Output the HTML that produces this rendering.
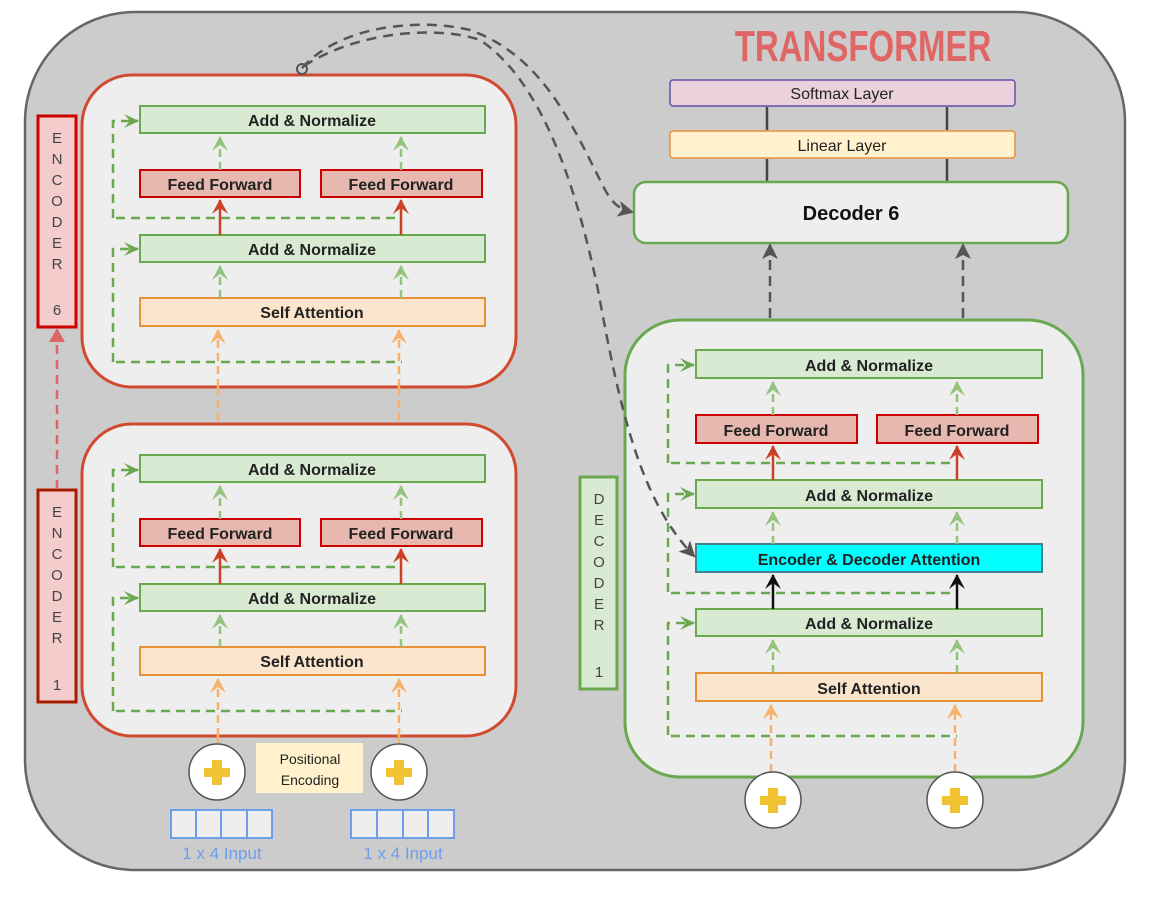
<!DOCTYPE html>
<html><head><meta charset="utf-8"><style>
html,body{margin:0;padding:0;background:#fff;}
svg{display:block;font-family:"Liberation Sans",sans-serif;}
.an{fill:#d9ead3;stroke:#6aa84f;stroke-width:2}
.ff{fill:#e6b8af;stroke:#cc0000;stroke-width:2}
.sa{fill:#fce5cd;stroke:#e69138;stroke-width:2}
.t{font-size:16px;font-weight:bold;fill:#222;text-anchor:middle;}
.gd{fill:none;stroke:#6aa84f;stroke-width:2.5;stroke-dasharray:9,6}
.lg{stroke:#93c47d;stroke-width:2.5;stroke-dasharray:8,5}
.or{stroke:#f6b26b;stroke-width:2.5;stroke-dasharray:8,5}
.rd{stroke:#cc4125;stroke-width:2.5}
.lt{font-size:15px;fill:#444;text-anchor:middle;}
</style></head><body>
<svg width="1156" height="904" viewBox="0 0 1156 904">
<defs>
<marker id="ag" markerWidth="16" markerHeight="16" refX="14" refY="8" orient="auto" markerUnits="userSpaceOnUse"><path d="M0,1 L15,8 L0,15 L6,8z" fill="#6aa84f"/></marker>
<marker id="alg" markerWidth="16" markerHeight="18" refX="14" refY="9" orient="auto" markerUnits="userSpaceOnUse"><path d="M0,1 L15,9 L0,17 L6,9z" fill="#93c47d"/></marker>
<marker id="ao" markerWidth="16" markerHeight="18" refX="14" refY="9" orient="auto" markerUnits="userSpaceOnUse"><path d="M0,1 L15,9 L0,17 L6,9z" fill="#f6b26b"/></marker>
<marker id="ar" markerWidth="16" markerHeight="18" refX="14" refY="9" orient="auto" markerUnits="userSpaceOnUse"><path d="M0,1 L15,9 L0,17 L6,9z" fill="#cc4125"/></marker>
<marker id="ak" markerWidth="16" markerHeight="18" refX="14" refY="9" orient="auto" markerUnits="userSpaceOnUse"><path d="M0,1 L15,9 L0,17 L6,9z" fill="#111"/></marker>
<marker id="agr" markerWidth="16" markerHeight="18" refX="14" refY="9" orient="auto" markerUnits="userSpaceOnUse"><path d="M0,1 L16,9 L0,17 L4,9z" fill="#555"/></marker>
<marker id="ap" markerWidth="14" markerHeight="16" refX="12" refY="8" orient="auto" markerUnits="userSpaceOnUse"><path d="M0,0 L14,8 L0,16z" fill="#e06666"/></marker>
</defs>

<rect x="25" y="12" width="1100" height="858" rx="110" fill="#cccccc" stroke="#666" stroke-width="2.5"/>
<text x="863" y="61" font-size="44" font-weight="bold" fill="#e06666" text-anchor="middle" transform="translate(863 0) scale(0.75 1) translate(-863 0)">TRANSFORMER</text>

<!-- Encoder 6 -->
<rect x="82" y="75" width="434" height="312" rx="50" fill="#eeeeee" stroke="#d04a30" stroke-width="3"/>
<g id="enc">
<path class="gd" d="M113,218 V121 H138" marker-end="url(#ag)"/>
<path class="gd" d="M116,218 H402"/>
<path class="gd" d="M113,362 V249 H138" marker-end="url(#ag)"/>
<path class="gd" d="M116,362 H402"/>
<rect class="an" x="140" y="106" width="345" height="27"/>
<text class="t" x="312" y="126">Add &amp; Normalize</text>
<rect class="ff" x="140" y="170" width="160" height="27"/>
<text class="t" x="220" y="190">Feed Forward</text>
<rect class="ff" x="321" y="170" width="161" height="27"/>
<text class="t" x="401" y="190">Feed Forward</text>
<rect class="an" x="140" y="235" width="345" height="27"/>
<text class="t" x="312" y="255">Add &amp; Normalize</text>
<rect class="sa" x="140" y="298" width="345" height="28"/>
<text class="t" x="312" y="318">Self Attention</text>
<line class="lg" x1="220" y1="170" x2="220" y2="137" marker-end="url(#alg)"/>
<line class="lg" x1="401" y1="170" x2="401" y2="137" marker-end="url(#alg)"/>
<line class="rd" x1="220" y1="235" x2="220" y2="200" marker-end="url(#ar)"/>
<line class="rd" x1="401" y1="235" x2="401" y2="200" marker-end="url(#ar)"/>
<line class="lg" x1="220" y1="298" x2="220" y2="266" marker-end="url(#alg)"/>
<line class="lg" x1="401" y1="298" x2="401" y2="266" marker-end="url(#alg)"/>
<line class="or" x1="218" y1="387" x2="218" y2="330" marker-end="url(#ao)"/>
<line class="or" x1="399" y1="387" x2="399" y2="330" marker-end="url(#ao)"/>
</g>
<line class="or" x1="218" y1="387" x2="218" y2="424"/>
<line class="or" x1="399" y1="387" x2="399" y2="424"/>

<!-- Encoder 1 -->
<rect x="82" y="424" width="434" height="312" rx="50" fill="#eeeeee" stroke="#d04a30" stroke-width="3"/>
<use href="#enc" transform="translate(0 349)"/>
<line class="or" x1="218" y1="736" x2="218" y2="745"/>
<line class="or" x1="399" y1="736" x2="399" y2="745"/>

<!-- labels -->
<rect x="38" y="116" width="38" height="211" fill="#f4cccc" stroke="#cc0000" stroke-width="3"/>
<g class="lt"><text x="57" y="143">E</text><text x="57" y="164">N</text><text x="57" y="185">C</text><text x="57" y="206">O</text><text x="57" y="227">D</text><text x="57" y="248">E</text><text x="57" y="269">R</text><text x="57" y="315">6</text></g>
<rect x="38" y="490" width="38" height="212" fill="#f4cccc" stroke="#a61c00" stroke-width="3"/>
<g class="lt"><text x="57" y="517">E</text><text x="57" y="538">N</text><text x="57" y="559">C</text><text x="57" y="580">O</text><text x="57" y="601">D</text><text x="57" y="622">E</text><text x="57" y="643">R</text><text x="57" y="690">1</text></g>
<line x1="57" y1="489" x2="57" y2="330" stroke="#e06666" stroke-width="2.5" stroke-dasharray="9,6" marker-end="url(#ap)"/>

<rect x="256" y="743" width="107" height="50" fill="#fff2cc"/>
<text x="310" y="764" font-size="14" fill="#222" text-anchor="middle">Positional</text>
<text x="310" y="785" font-size="14" fill="#222" text-anchor="middle">Encoding</text>
<g fill="#eeeeee" stroke="#6d9eeb" stroke-width="2">
<rect x="171" y="810" width="25" height="28"/><rect x="196" y="810" width="25" height="28"/><rect x="221" y="810" width="26" height="28"/><rect x="247" y="810" width="25" height="28"/>
<rect x="351" y="810" width="26" height="28"/><rect x="377" y="810" width="26" height="28"/><rect x="403" y="810" width="25" height="28"/><rect x="428" y="810" width="26" height="28"/>
</g>
<text x="222" y="859" font-size="17" fill="#6d9eeb" text-anchor="middle">1 x 4 Input</text>
<text x="403" y="859" font-size="17" fill="#6d9eeb" text-anchor="middle">1 x 4 Input</text>

<!-- top layers -->
<rect x="670" y="80" width="345" height="26" rx="3" fill="#ead1dc" stroke="#674ea7" stroke-width="1.5"/>
<text x="842" y="99" font-size="16" fill="#222" text-anchor="middle">Softmax Layer</text>
<rect x="670" y="131" width="345" height="27" rx="3" fill="#fff2cc" stroke="#e69138" stroke-width="1.5"/>
<text x="842" y="151" font-size="16" fill="#222" text-anchor="middle">Linear Layer</text>
<g stroke="#444" stroke-width="2.5">
<line x1="767" y1="107" x2="767" y2="130"/><line x1="947" y1="107" x2="947" y2="130"/>
<line x1="767" y1="159" x2="767" y2="182"/><line x1="947" y1="159" x2="947" y2="182"/>
</g>
<rect x="634" y="182" width="434" height="61" rx="12" fill="#eeeeee" stroke="#6aa84f" stroke-width="2.5"/>
<text x="851" y="220" font-size="20" font-weight="bold" fill="#111" text-anchor="middle">Decoder 6</text>
<line x1="770" y1="350" x2="770" y2="245" stroke="#555" stroke-width="2.5" stroke-dasharray="10,6" marker-end="url(#agr)"/>
<line x1="963" y1="350" x2="963" y2="245" stroke="#555" stroke-width="2.5" stroke-dasharray="10,6" marker-end="url(#agr)"/>

<!-- Decoder 1 -->
<rect x="625" y="320" width="458" height="457" rx="55" fill="#eeeeee" stroke="#6aa84f" stroke-width="3"/>
<path class="gd" d="M668,463 V365 H694" marker-end="url(#ag)"/>
<path class="gd" d="M671,463 H957"/>
<path class="gd" d="M668,592 V494 H694" marker-end="url(#ag)"/>
<path class="gd" d="M671,593 H957"/>
<path class="gd" d="M668,735 V623 H694" marker-end="url(#ag)"/>
<path class="gd" d="M671,736 H957"/>
<rect class="an" x="696" y="350" width="346" height="28"/>
<text class="t" x="869" y="371">Add &amp; Normalize</text>
<rect class="ff" x="696" y="415" width="161" height="28"/>
<text class="t" x="776" y="436">Feed Forward</text>
<rect class="ff" x="877" y="415" width="161" height="28"/>
<text class="t" x="957" y="436">Feed Forward</text>
<rect class="an" x="696" y="480" width="346" height="28"/>
<text class="t" x="869" y="501">Add &amp; Normalize</text>
<rect x="696" y="544" width="346" height="28" fill="#00ffff" stroke="#45818e" stroke-width="2"/>
<text class="t" x="869" y="565">Encoder &amp; Decoder Attention</text>
<rect class="an" x="696" y="609" width="346" height="27"/>
<text class="t" x="869" y="629">Add &amp; Normalize</text>
<rect class="sa" x="696" y="673" width="346" height="28"/>
<text class="t" x="869" y="694">Self Attention</text>
<line class="lg" x1="773" y1="415" x2="773" y2="382" marker-end="url(#alg)"/>
<line class="lg" x1="957" y1="415" x2="957" y2="382" marker-end="url(#alg)"/>
<line class="rd" x1="773" y1="480" x2="773" y2="446" marker-end="url(#ar)"/>
<line class="rd" x1="957" y1="480" x2="957" y2="446" marker-end="url(#ar)"/>
<line class="lg" x1="773" y1="544" x2="773" y2="512" marker-end="url(#alg)"/>
<line class="lg" x1="957" y1="544" x2="957" y2="512" marker-end="url(#alg)"/>
<line stroke="#111" stroke-width="2.5" x1="773" y1="609" x2="773" y2="575" marker-end="url(#ak)"/>
<line stroke="#111" stroke-width="2.5" x1="957" y1="609" x2="957" y2="575" marker-end="url(#ak)"/>
<line class="lg" x1="773" y1="673" x2="773" y2="640" marker-end="url(#alg)"/>
<line class="lg" x1="957" y1="673" x2="957" y2="640" marker-end="url(#alg)"/>
<line class="or" x1="771" y1="772" x2="771" y2="705" marker-end="url(#ao)"/>
<line class="or" x1="955" y1="772" x2="955" y2="705" marker-end="url(#ao)"/>

<rect x="580" y="477" width="37" height="212" fill="#d9ead3" stroke="#6aa84f" stroke-width="3"/>
<g class="lt"><text x="599" y="504">D</text><text x="599" y="525">E</text><text x="599" y="546">C</text><text x="599" y="567">O</text><text x="599" y="588">D</text><text x="599" y="609">E</text><text x="599" y="630">R</text><text x="599" y="677">1</text></g>

<!-- circles -->
<g stroke="#555" stroke-width="1.5" fill="#fff">
<circle cx="217" cy="772" r="28"/><circle cx="399" cy="772" r="28"/>
<circle cx="773" cy="800" r="28"/><circle cx="955" cy="800" r="28"/>
</g>
<g fill="#f1c232">
<rect x="204" y="768" width="26" height="9"/><rect x="212" y="760" width="10" height="25"/>
<rect x="386" y="768" width="26" height="9"/><rect x="394" y="760" width="10" height="25"/>
<rect x="760" y="796" width="26" height="9"/><rect x="768" y="788" width="10" height="25"/>
<rect x="942" y="796" width="26" height="9"/><rect x="950" y="788" width="10" height="25"/>
</g>

<!-- curved encoder outputs -->
<path d="M302,68 C340,25 420,18 470,30 C540,55 570,120 600,180 C610,200 615,208 632,212" fill="none" stroke="#555" stroke-width="2.5" stroke-dasharray="10,7" marker-end="url(#agr)"/>
<path d="M304,66 C360,30 440,26 480,40 C540,80 575,180 598,290 C620,410 640,500 694,556" fill="none" stroke="#555" stroke-width="2.5" stroke-dasharray="10,7" marker-end="url(#agr)"/>
<circle cx="302" cy="69" r="5" fill="none" stroke="#555" stroke-width="2"/>
</svg>
</body></html>
